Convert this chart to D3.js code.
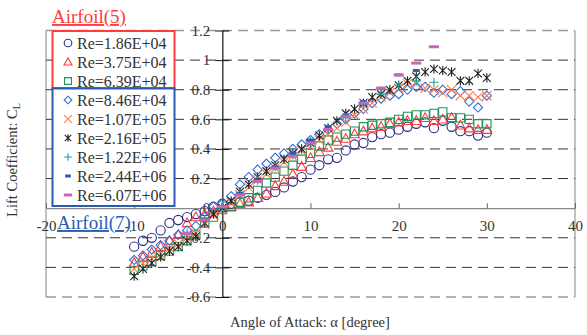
<!DOCTYPE html>
<html>
<head>
<meta charset="utf-8">
<script src="https://cdn.jsdelivr.net/npm/d3@7"></script>
<style>
  body { margin: 0; background: #fff; }
  text { font-family: "Liberation Serif", "Times New Roman", serif; }
</style>
</head>
<body>
<svg id="chart" width="587" height="335"></svg>
<script>
// angles of attack (deg)
const anglesLow = [-10, -9, -8, -7, -6, -5, -4, -3, -2, -1, 0, 1, 2, 3, 4, 5, 6, 7, 8, 9, 10,
    11, 12, 13, 14, 15, 16, 17, 18, 19, 20, 21, 22, 23, 24, 25, 26, 27, 28, 29, 30];
const anglesHigh = [-4, -2, 0, 2, 4, 6, 8, 10, 12, 14, 16, 18, 20, 22, 24];

// lift coefficient per Reynolds number
const re186e04 = [-0.26, -0.22, -0.20, -0.15, -0.10, -0.08, -0.06, -0.04, -0.02, 0.01, 0.03,
    0.03, 0.04, 0.05, 0.07, 0.09, 0.11, 0.14, 0.18, 0.21, 0.26,
    0.29, 0.33, 0.34, 0.39, 0.43, 0.44, 0.48, 0.50, 0.51, 0.53,
    0.55, 0.57, 0.58, 0.54, 0.59, 0.55, 0.52, 0.52, 0.49, 0.51];
const re375e04 = [-0.37, -0.33, -0.30, -0.26, -0.22, -0.18, -0.10, -0.06, -0.04, -0.02, 0.00,
    0.01, 0.03, 0.04, 0.07, 0.10, 0.15, 0.18, 0.23, 0.28, 0.34,
    0.38, 0.41, 0.45, 0.47, 0.50, 0.52, 0.54, 0.55, 0.57, 0.58,
    0.59, 0.59, 0.61, 0.59, 0.60, 0.61, 0.56, 0.54, 0.53, 0.53];
const re639e04 = [-0.42, -0.39, -0.36, -0.32, -0.29, -0.26, -0.22, -0.18, -0.10, -0.06, -0.01,
    0.01, 0.04, 0.07, 0.12, 0.17, 0.21, 0.25, 0.29, 0.33, 0.37,
    0.42, 0.46, 0.48, 0.50, 0.52, 0.55, 0.56, 0.57, 0.58, 0.60,
    0.62, 0.63, 0.63, 0.64, 0.65, 0.61, 0.61, 0.60, 0.57, 0.57];
const re846e04 = [-0.35, -0.32, -0.28, -0.25, -0.22, -0.18, -0.15, -0.12, -0.06, 0.01, 0.03,
    0.08, 0.16, 0.21, 0.26, 0.30, 0.34, 0.37, 0.40, 0.43, 0.46,
    0.50, 0.53, 0.57, 0.60, 0.64, 0.67, 0.71, 0.74, 0.76, 0.77,
    0.80, 0.82, 0.82, 0.78, 0.80, 0.77, 0.79, 0.72, 0.68, 0.76];
const re107e05 = [-0.41, -0.37, -0.34, -0.31, -0.27, -0.24, -0.20, -0.17, -0.11, -0.05, 0.00,
    0.04, 0.09, 0.14, 0.19, 0.23, 0.27, 0.31, 0.35, 0.39, 0.42,
    0.46, 0.50, 0.54, 0.58, 0.63, 0.67, 0.71, 0.75, 0.78, 0.81,
    0.84, 0.84, 0.81, 0.80, 0.78, 0.80, 0.76, 0.76, 0.75, 0.76];
const re216e05 = [-0.46, -0.41, -0.37, -0.33, -0.29, -0.26, -0.22, -0.19, -0.10, -0.04, 0.00,
    0.05, 0.11, 0.16, 0.21, 0.25, 0.29, 0.33, 0.37, 0.40, 0.44,
    0.49, 0.54, 0.59, 0.64, 0.67, 0.71, 0.75, 0.77, 0.80, 0.83,
    0.86, 0.89, 0.92, 0.94, 0.93, 0.92, 0.86, 0.86, 0.91, 0.88];
const re122e06 = [-0.17, -0.08, 0.01, 0.10, 0.19, 0.28, 0.36, 0.45, 0.53, 0.61, 0.70, 0.77, 0.83, 0.86, 0.85];
const re244e06 = [-0.17, -0.08, 0.01, 0.10, 0.19, 0.28, 0.37, 0.46, 0.55, 0.63, 0.72, 0.81, 0.90, 0.93];
const re607e06 = [-0.17, -0.08, 0.01, 0.09, 0.18, 0.27, 0.35, 0.44, 0.53, 0.62, 0.71, 0.81, 0.90, 0.98, 1.09];

const xTicks = [-20, -10, 0, 10, 20, 30, 40];
const yTicks = [-0.6, -0.4, -0.2, 0, 0.2, 0.4, 0.6, 0.8, 1, 1.2];

const series = [
    { label: 'Re=1.86E+04', x: anglesLow, y: re186e04, shape: 'circle', color: '#2b2f80' },
    { label: 'Re=3.75E+04', x: anglesLow, y: re375e04, shape: 'triangle', color: '#ff3b3b' },
    { label: 'Re=6.39E+04', x: anglesLow, y: re639e04, shape: 'square', color: '#17955b' },
    { label: 'Re=8.46E+04', x: anglesLow, y: re846e04, shape: 'diamond', color: '#2f6fd6' },
    { label: 'Re=1.07E+05', x: anglesLow, y: re107e05, shape: 'cross', color: '#ff7b4a' },
    { label: 'Re=2.16E+05', x: anglesLow, y: re216e05, shape: 'star', color: '#222222' },
    { label: 'Re=1.22E+06', x: anglesHigh, y: re122e06, shape: 'plus', color: '#1aa0a0' },
    { label: 'Re=2.44E+06', x: anglesHigh.slice(0, re244e06.length), y: re244e06, shape: 'dash', color: '#2c5cb8' },
    { label: 'Re=6.07E+06', x: anglesHigh, y: re607e06, shape: 'longdash', color: '#cc66b3' }
];

const svg = d3.select('#chart');
const margin = { left: 46, right: 12, top: 30.5, bottom: 38 };
const W = 587, H = 335;

const x = d3.scaleLinear().domain([-20, 40]).range([margin.left, W - margin.right]);
const y = d3.scaleLinear().domain([-0.6, 1.2]).range([H - margin.bottom, margin.top]);

// marker outline as a path string, s = half size
function shapePath(kind, s) {
    const p = d3.path();
    if (kind === 'circle') {
        p.moveTo(s, 0); p.arc(0, 0, s, 0, 2 * Math.PI);
    } else if (kind === 'triangle') {
        p.moveTo(0, -s * 1.1); p.lineTo(s * 1.05, s * 0.8); p.lineTo(-s * 1.05, s * 0.8); p.closePath();
    } else if (kind === 'square') {
        p.rect(-s * 0.9, -s * 0.9, s * 1.8, s * 1.8);
    } else if (kind === 'diamond') {
        p.moveTo(0, -s); p.lineTo(s, 0); p.lineTo(0, s); p.lineTo(-s, 0); p.closePath();
    } else if (kind === 'cross') {
        p.moveTo(-s, -s); p.lineTo(s, s); p.moveTo(s, -s); p.lineTo(-s, s);
    } else if (kind === 'star') {
        p.moveTo(-s * 0.85, -s * 0.85); p.lineTo(s * 0.85, s * 0.85);
        p.moveTo(s * 0.85, -s * 0.85); p.lineTo(-s * 0.85, s * 0.85);
        p.moveTo(0, -s); p.lineTo(0, s);
    } else if (kind === 'plus') {
        p.moveTo(-s, 0); p.lineTo(s, 0); p.moveTo(0, -s); p.lineTo(0, s);
    } else if (kind === 'dash') {
        p.rect(-s * 0.75, -1.5, s * 1.5, 3);
    } else if (kind === 'longdash') {
        p.rect(-s * 1.1, -1.5, s * 2.2, 3);
    }
    return p.toString();
}
const filled = k => k === 'dash' || k === 'longdash';

// plot frame
svg.append('line').attr('x1', x(-20)).attr('x2', x(-20)).attr('y1', y(1.2)).attr('y2', y(-0.6))
    .attr('stroke', '#a0a0a0').attr('stroke-width', 1.3);
svg.append('line').attr('x1', x(40)).attr('x2', x(40)).attr('y1', y(1.2)).attr('y2', y(-0.6))
    .attr('stroke', '#a0a0a0').attr('stroke-width', 1.3);

// gridlines
svg.append('g').selectAll('line')
    .data(yTicks.filter(d => d !== 0))
    .enter().append('line')
    .attr('x1', x(-20)).attr('x2', x(40))
    .attr('y1', d => y(d)).attr('y2', d => y(d))
    .attr('stroke', d => (d === 1.2 || d === -0.6) ? '#999' : '#333')
    .attr('stroke-width', d => (d === 1.2 || d === -0.6) ? 1.6 : 1)
    .attr('stroke-dasharray', '10,6');

// x axis along Cl = 0
const xAxis = svg.append('g')
    .attr('transform', `translate(0,${y(0)})`)
    .call(d3.axisBottom(x).tickValues(xTicks).tickFormat(d => String(d))
        .tickSizeInner(-5).tickSizeOuter(0).tickPadding(12));
xAxis.select('.domain').attr('stroke', '#888').attr('stroke-width', 1.3);
xAxis.selectAll('.tick line').attr('stroke', '#666');
xAxis.selectAll('.tick text').attr('fill', '#333').style('font-size', '15px')
    .style('font-family', '"Liberation Serif", serif');

// y axis along alpha = 0
const yAxis = svg.append('g')
    .attr('transform', `translate(${x(0)},0)`)
    .call(d3.axisLeft(y).tickValues(yTicks).tickFormat(d => String(Math.round(d * 10) / 10))
        .tickSizeInner(7).tickSizeOuter(0).tickPadding(5));
yAxis.select('.domain').attr('stroke', '#111').attr('stroke-width', 1.2);
yAxis.selectAll('.tick line').attr('x2', 7).attr('x1', -7).attr('stroke', '#111');
yAxis.selectAll('.tick text').attr('fill', '#333').style('font-size', '15px')
    .style('font-family', '"Liberation Serif", serif');

// data markers
series.forEach(s => {
    const pts = s.x.map((a, i) => [a, s.y[i]]);
    svg.append('g').selectAll('path')
        .data(pts)
        .enter().append('path')
        .attr('transform', d => `translate(${x(d[0])},${y(d[1])})`)
        .attr('d', shapePath(s.shape, 4.6))
        .attr('fill', filled(s.shape) ? s.color : 'none')
        .attr('stroke', filled(s.shape) ? 'none' : s.color)
        .attr('stroke-width', 1.1);
});

// legend
const rowY = i => 43 + i * 19;
svg.append('rect').attr('x', 52.5).attr('y', 31).attr('width', 122).attr('height', 57)
    .attr('fill', '#fff').attr('stroke', '#ff3b3b').attr('stroke-width', 2);
svg.append('rect').attr('x', 52.5).attr('y', 88.5).attr('width', 122).attr('height', 117.5)
    .attr('fill', '#fff').attr('stroke', '#2c5cb0').attr('stroke-width', 2);

const legendItem = svg.append('g').selectAll('g')
    .data(series)
    .enter().append('g')
    .attr('transform', (d, i) => `translate(68,${rowY(i)})`);
legendItem.append('path')
    .attr('d', d => shapePath(d.shape, 3.8))
    .attr('fill', d => filled(d.shape) ? d.color : 'none')
    .attr('stroke', d => filled(d.shape) ? 'none' : d.color)
    .attr('stroke-width', 1.1);
legendItem.append('text')
    .attr('x', 9).attr('y', 5.5)
    .attr('fill', '#333')
    .style('font-size', '16px')
    .text(d => d.label);

// airfoil labels
svg.append('text').attr('x', 52).attr('y', 23).attr('fill', '#ff3b3b')
    .style('font-size', '19px').style('text-decoration', 'underline').text('Airfoil(5)');
svg.append('text').attr('x', 57).attr('y', 229).attr('fill', '#2c5cb0')
    .style('font-size', '19px').style('text-decoration', 'underline').text('Airfoil(7)');

// axis titles
svg.append('text').attr('x', 310).attr('y', 327).attr('text-anchor', 'middle')
    .attr('fill', '#333').style('font-size', '14.5px').text('Angle of Attack: α [degree]');
const yt = svg.append('text').attr('transform', 'translate(17,160) rotate(-90)')
    .attr('text-anchor', 'middle').attr('fill', '#333').style('font-size', '14.5px');
yt.append('tspan').text('Lift Coefficient: C');
yt.append('tspan').attr('dy', 3).style('font-size', '10px').text('L');
</script>
</body>
</html>
